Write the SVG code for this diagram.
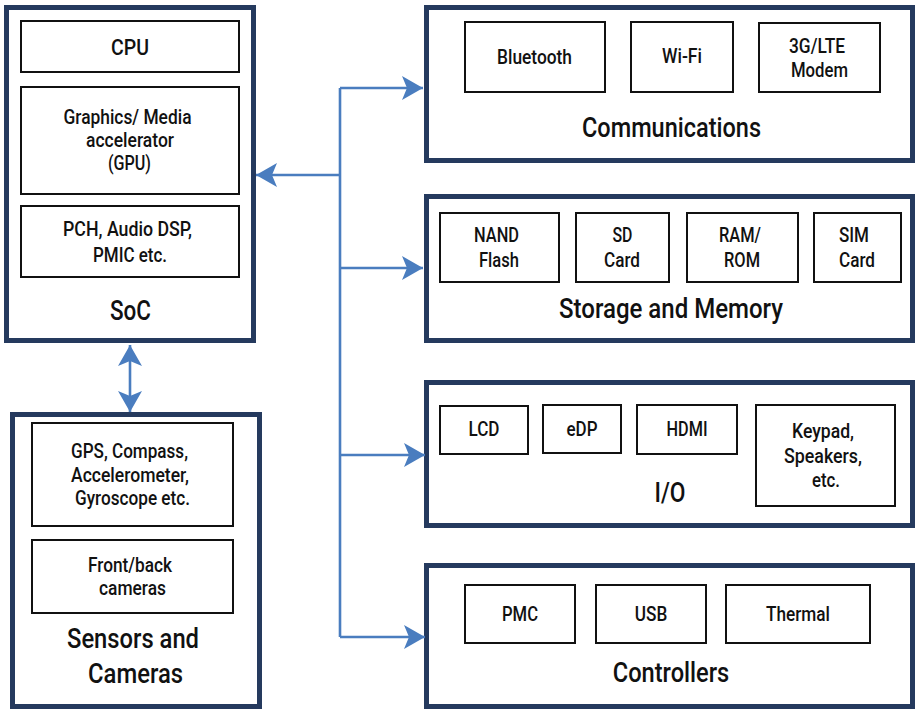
<svg xmlns="http://www.w3.org/2000/svg" width="915" height="709" viewBox="0 0 915 709">
  <style>
    .outer { fill: #ffffff; stroke: #253a5e; stroke-width: 5; }
    .inner { fill: #ffffff; stroke: #111111; stroke-width: 2; }
    text { font-family: Roboto, "Liberation Sans", sans-serif; font-weight: 500; fill: #111111; text-anchor: middle; }
    .s { font-size: 19.5px; }
    .m { font-size: 22px; }
    .t { font-size: 27px; }
    .wire { fill: none; stroke: #4a7dbf; stroke-width: 2.6; }
  </style>
  <defs>
    <marker id="head" viewBox="-22 -13 23 26" refX="0" refY="0" markerWidth="23" markerHeight="26" markerUnits="userSpaceOnUse" orient="auto-start-reverse">
      <path d="M0,0 L-21,-12 L-16,0 L-21,12 Z" fill="#4a7dbf"/>
    </marker>
  </defs>
  <rect width="915" height="709" fill="#ffffff"/>

  <!-- SoC -->
  <g id="soc">
    <rect class="outer" x="6.5" y="7.5" width="247" height="333"/>
    <rect class="inner" x="21" y="21" width="218" height="51"/>
    <text class="m" x="130" y="55" textLength="38" lengthAdjust="spacingAndGlyphs">CPU</text>
    <rect class="inner" x="21" y="87" width="218" height="107"/>
    <text class="s" x="127.5" y="124" textLength="128" lengthAdjust="spacingAndGlyphs">Graphics/ Media</text>
    <text class="s" x="130" y="147" textLength="88" lengthAdjust="spacingAndGlyphs">accelerator</text>
    <text class="s" x="129.5" y="170" textLength="43" lengthAdjust="spacingAndGlyphs">(GPU)</text>
    <rect class="inner" x="21" y="206" width="218" height="71"/>
    <text class="s" x="127.5" y="236" textLength="129" lengthAdjust="spacingAndGlyphs">PCH, Audio DSP,</text>
    <text class="s" x="130" y="262" textLength="74" lengthAdjust="spacingAndGlyphs">PMIC etc.</text>
    <text class="t" x="130.5" y="320" textLength="41" lengthAdjust="spacingAndGlyphs">SoC</text>
  </g>

  <!-- Sensors and Cameras -->
  <g id="sensors">
    <rect class="outer" x="12.5" y="414.5" width="247" height="292"/>
    <rect class="inner" x="32" y="423" width="201" height="103"/>
    <text class="s" x="129.5" y="458" textLength="117" lengthAdjust="spacingAndGlyphs">GPS, Compass,</text>
    <text class="s" x="130" y="482" textLength="118" lengthAdjust="spacingAndGlyphs">Accelerometer,</text>
    <text class="s" x="132.5" y="505" textLength="115" lengthAdjust="spacingAndGlyphs">Gyroscope etc.</text>
    <rect class="inner" x="32" y="540" width="201" height="73"/>
    <text class="s" x="130" y="572" textLength="84" lengthAdjust="spacingAndGlyphs">Front/back</text>
    <text class="s" x="132.5" y="595" textLength="67" lengthAdjust="spacingAndGlyphs">cameras</text>
    <text class="t" x="133" y="648" textLength="132" lengthAdjust="spacingAndGlyphs">Sensors and</text>
    <text class="t" x="135.5" y="683" textLength="95" lengthAdjust="spacingAndGlyphs">Cameras</text>
  </g>

  <!-- Communications -->
  <g id="communications">
    <rect class="outer" x="426.5" y="7.5" width="486" height="153"/>
    <rect class="inner" x="465" y="22" width="140" height="70"/>
    <text class="s" x="534.5" y="64" textLength="75" lengthAdjust="spacingAndGlyphs">Bluetooth</text>
    <rect class="inner" x="631" y="22" width="102" height="70"/>
    <text class="s" x="682" y="63" textLength="40" lengthAdjust="spacingAndGlyphs">Wi-Fi</text>
    <rect class="inner" x="759" y="23" width="121" height="69"/>
    <text class="s" x="817" y="53" textLength="56" lengthAdjust="spacingAndGlyphs">3G/LTE</text>
    <text class="s" x="819.5" y="77" textLength="57" lengthAdjust="spacingAndGlyphs">Modem</text>
    <text class="t" x="671.5" y="137" textLength="179" lengthAdjust="spacingAndGlyphs">Communications</text>
  </g>

  <!-- Storage and Memory -->
  <g id="storage">
    <rect class="outer" x="426.5" y="196.5" width="486" height="144"/>
    <rect class="inner" x="440" y="213" width="119" height="69"/>
    <text class="s" x="496.5" y="242" textLength="45" lengthAdjust="spacingAndGlyphs">NAND</text>
    <text class="s" x="499" y="267" textLength="40" lengthAdjust="spacingAndGlyphs">Flash</text>
    <rect class="inner" x="576" y="213" width="93" height="69"/>
    <text class="s" x="622.5" y="242" textLength="20" lengthAdjust="spacingAndGlyphs">SD</text>
    <text class="s" x="622" y="267" textLength="36" lengthAdjust="spacingAndGlyphs">Card</text>
    <rect class="inner" x="687" y="213" width="111" height="69"/>
    <text class="s" x="740" y="242" textLength="42" lengthAdjust="spacingAndGlyphs">RAM/</text>
    <text class="s" x="742" y="267" textLength="36" lengthAdjust="spacingAndGlyphs">ROM</text>
    <rect class="inner" x="814" y="213" width="87" height="69"/>
    <text class="s" x="854" y="242" textLength="30" lengthAdjust="spacingAndGlyphs">SIM</text>
    <text class="s" x="857" y="267" textLength="36" lengthAdjust="spacingAndGlyphs">Card</text>
    <text class="t" x="671" y="318" textLength="224" lengthAdjust="spacingAndGlyphs">Storage and Memory</text>
  </g>

  <!-- I/O -->
  <g id="io">
    <rect class="outer" x="426.5" y="382.5" width="486" height="143"/>
    <rect class="inner" x="440" y="406" width="88" height="48"/>
    <text class="s" x="484" y="436" textLength="31" lengthAdjust="spacingAndGlyphs">LCD</text>
    <rect class="inner" x="543" y="405" width="78" height="48"/>
    <text class="s" x="582" y="436" textLength="31" lengthAdjust="spacingAndGlyphs">eDP</text>
    <rect class="inner" x="637" y="405" width="100" height="49"/>
    <text class="s" x="687" y="436" textLength="41" lengthAdjust="spacingAndGlyphs">HDMI</text>
    <rect class="inner" x="756" y="405" width="139" height="101"/>
    <text class="s" x="823" y="438" textLength="62" lengthAdjust="spacingAndGlyphs">Keypad,</text>
    <text class="s" x="823" y="463" textLength="78" lengthAdjust="spacingAndGlyphs">Speakers,</text>
    <text class="s" x="826" y="487" textLength="28" lengthAdjust="spacingAndGlyphs">etc.</text>
    <text class="t" x="670" y="502" textLength="31" lengthAdjust="spacingAndGlyphs">I/O</text>
  </g>

  <!-- Controllers -->
  <g id="controllers">
    <rect class="outer" x="426.5" y="565.5" width="486" height="141"/>
    <rect class="inner" x="465" y="585" width="110" height="58"/>
    <text class="s" x="520" y="621" textLength="36" lengthAdjust="spacingAndGlyphs">PMC</text>
    <rect class="inner" x="596" y="585" width="110" height="58"/>
    <text class="s" x="651" y="621" textLength="32.5" lengthAdjust="spacingAndGlyphs">USB</text>
    <rect class="inner" x="726" y="585" width="144" height="58"/>
    <text class="s" x="798" y="621" textLength="64" lengthAdjust="spacingAndGlyphs">Thermal</text>
    <text class="t" x="671" y="682" textLength="116.5" lengthAdjust="spacingAndGlyphs">Controllers</text>
  </g>

  <!-- Connectors: shared bus trunk with branches -->
  <g id="connectors">
    <path class="wire" d="M340,88 V637"/>
    <path class="wire" d="M340,88 H423" marker-end="url(#head)"/>
    <path class="wire" d="M340,268 H423" marker-end="url(#head)"/>
    <path class="wire" d="M340,455 H425" marker-end="url(#head)"/>
    <path class="wire" d="M340,637 H425" marker-end="url(#head)"/>
    <path class="wire" d="M340,175 H256" marker-end="url(#head)"/>
    <path class="wire" d="M130,345 V412" marker-start="url(#head)" marker-end="url(#head)"/>
  </g>
</svg>
